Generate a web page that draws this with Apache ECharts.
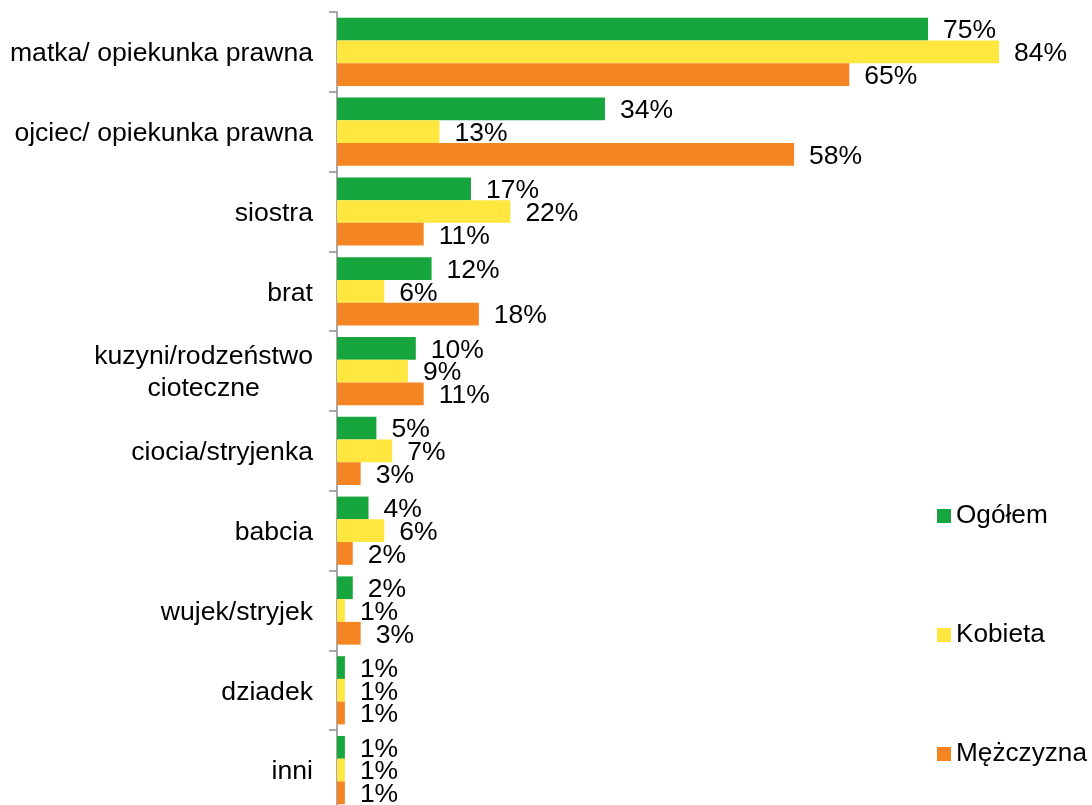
<!DOCTYPE html>
<html>
<head>
<meta charset="utf-8">
<script src="https://cdn.jsdelivr.net/npm/echarts@6/dist/echarts.min.js"></script>
<style>html,body{margin:0;padding:0;background:#fff;overflow:hidden}#c{width:1092px;height:812px}</style>
</head>
<body>
<div id="c"></div>
<script>
const categories = ['matka/ opiekunka prawna', 'ojciec/ opiekunka prawna', 'siostra', 'brat', 'kuzyni/rodzeństwo\ncioteczne', 'ciocia/stryjenka', 'babcia', 'wujek/stryjek', 'dziadek', 'inni'];
const seriesNames = ['Ogółem', 'Kobieta', 'Mężczyzna'];
const ogolem = [75, 34, 17, 12, 10, 5, 4, 2, 1, 1];
const kobieta = [84, 13, 22, 6, 9, 7, 6, 1, 1, 1];
const mezczyzna = [65, 58, 11, 18, 11, 3, 2, 3, 1, 1];
const colors = ['#17a63d', '#ffe73f', '#f58523'];

const FONT = "'Liberation Sans', Arial, sans-serif";
const chart = echarts.init(document.getElementById('c'));
const mk = (name, data, color) => ({
  name, type: 'bar', data,
  barGap: '0%', barCategoryGap: '14.5%',
  itemStyle: { color },
  label: {
    show: true, position: 'right', distance: 15, offset: [0, 2],
    formatter: p => p.value + '%',
    color: '#000', fontSize: 26.5, fontFamily: FONT
  }
});
chart.setOption({
  animation: false,
  textStyle: { fontFamily: FONT },
  grid: { left: 337, top: 12, bottom: 2, right: 0, containLabel: false },
  xAxis: { type: 'value', min: 0, max: 95.8, show: false },
  yAxis: {
    type: 'category', data: categories, inverse: true,
    axisLine: { show: true, lineStyle: { color: '#8c8c8c', width: 1.5 } },
    axisTick: { show: true, length: 8, lineStyle: { color: '#8c8c8c', width: 1.5 } },
    axisLabel: {
      margin: 24, color: '#000', fontSize: 26.6, fontFamily: FONT, padding: [4, 0, 0, 0],
      formatter: v => v.split('\n').map(s => '{c|' + s + '}').join('\n'),
      rich: { c: { align: 'center', fontSize: 26.6, fontFamily: FONT, color: '#000', lineHeight: 32 } }
    },
    splitLine: { show: false }
  },
  legend: {
    orient: 'vertical', left: 937, top: 503, itemGap: 93, padding: 0,
    itemWidth: 14, itemHeight: 14, icon: 'rect', itemStyle: { borderWidth: 0 },
    textStyle: { fontSize: 26.2, fontFamily: FONT, color: '#000' },
    data: seriesNames
  },
  series: [mk(seriesNames[0], ogolem, colors[0]), mk(seriesNames[1], kobieta, colors[1]), mk(seriesNames[2], mezczyzna, colors[2])]
});
</script>
</body>
</html>
